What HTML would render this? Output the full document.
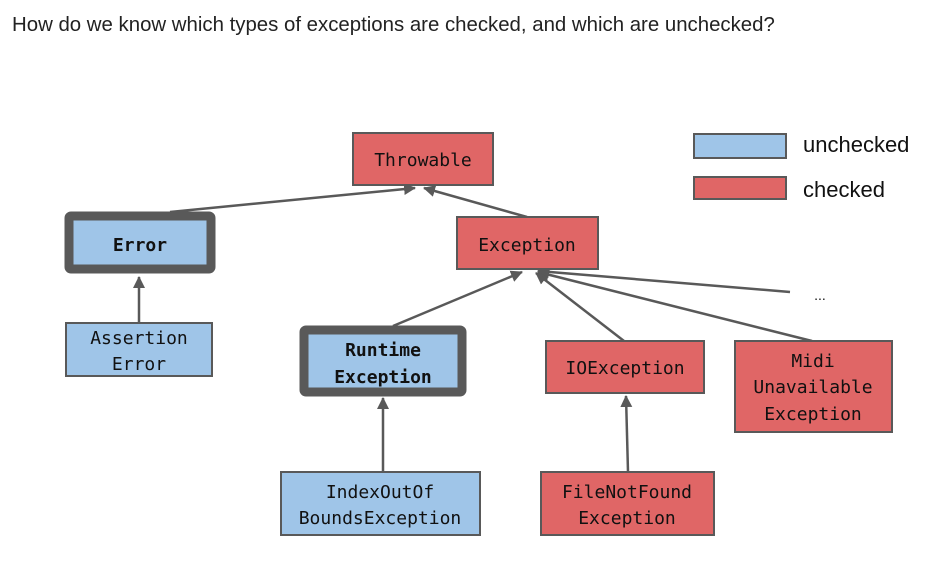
<!DOCTYPE html>
<html><head><style>
body{margin:0;background:#fff;width:950px;height:563px;overflow:hidden;font-family:"Liberation Sans",sans-serif}
.t{position:absolute;left:12px;top:14px;font-size:20.4px;color:#222}
svg text{font-family:"DejaVu Sans Mono","Liberation Mono",monospace;font-size:18px;fill:#111}
</style></head><body>
<div class="t">How do we know which types of exceptions are checked, and which are unchecked?</div>
<svg width="950" height="563" style="position:absolute;left:0;top:0">
<defs><marker id="a" markerWidth="14" markerHeight="14" refX="11" refY="6" orient="auto" markerUnits="userSpaceOnUse"><path d="M0,0 L12,6 L0,12 z" fill="#595959"/></marker></defs>
<g stroke="#595959" stroke-width="2.5" fill="none">
<line x1="170" y1="212" x2="415" y2="188" marker-end="url(#a)"/>
<line x1="527" y1="217" x2="424" y2="188" marker-end="url(#a)"/>
<line x1="139" y1="323" x2="139" y2="277" marker-end="url(#a)"/>
<line x1="393" y1="326" x2="522" y2="272" marker-end="url(#a)"/>
<line x1="624" y1="341" x2="536" y2="273" marker-end="url(#a)"/>
<line x1="812" y1="341" x2="538" y2="272" marker-end="url(#a)"/>
<line x1="790" y1="292" x2="538" y2="271" marker-end="url(#a)"/>
<line x1="383" y1="472" x2="383" y2="398" marker-end="url(#a)"/>
<line x1="628" y1="472" x2="626" y2="396" marker-end="url(#a)"/>
</g>
<g stroke="#595959" stroke-width="2">
<rect x="353" y="133" width="140" height="52" fill="#e06666"/>
<rect x="457" y="217" width="141" height="52" fill="#e06666"/>
<rect x="69" y="216" width="142" height="53" fill="#9fc5e8" stroke-width="9" rx="2"/>
<rect x="66" y="323" width="146" height="53" fill="#9fc5e8"/>
<rect x="304" y="330" width="158" height="62" fill="#9fc5e8" stroke-width="9" rx="2"/>
<rect x="546" y="341" width="158" height="52" fill="#e06666"/>
<rect x="735" y="341" width="157" height="91" fill="#e06666"/>
<rect x="281" y="472" width="199" height="63" fill="#9fc5e8"/>
<rect x="541" y="472" width="173" height="63" fill="#e06666"/>
<rect x="694" y="134" width="92" height="24" fill="#9fc5e8"/>
<rect x="694" y="177" width="92" height="22" fill="#e06666"/>
</g>
<g text-anchor="middle">
<text x="423" y="166">Throwable</text>
<text x="527" y="251">Exception</text>
<text x="140" y="251" font-weight="bold">Error</text>
<text x="139" y="344">Assertion</text><text x="139" y="370">Error</text>
<text x="383" y="356" font-weight="bold">Runtime</text><text x="383" y="383" font-weight="bold">Exception</text>
<text x="625" y="374">IOException</text>
<text x="813" y="367">Midi</text><text x="813" y="393">Unavailable</text><text x="813" y="420">Exception</text>
<text x="380" y="498">IndexOutOf</text><text x="380" y="524">BoundsException</text>
<text x="627" y="498">FileNotFound</text><text x="627" y="524">Exception</text>
<text x="820" y="300" style="font-family:'Liberation Sans',sans-serif;font-size:14px">...</text>
</g>
<text x="803" y="152" style="font-family:'Liberation Sans',sans-serif;font-size:22px">unchecked</text>
<text x="803" y="197" style="font-family:'Liberation Sans',sans-serif;font-size:22px">checked</text>
</svg>
</body></html>
